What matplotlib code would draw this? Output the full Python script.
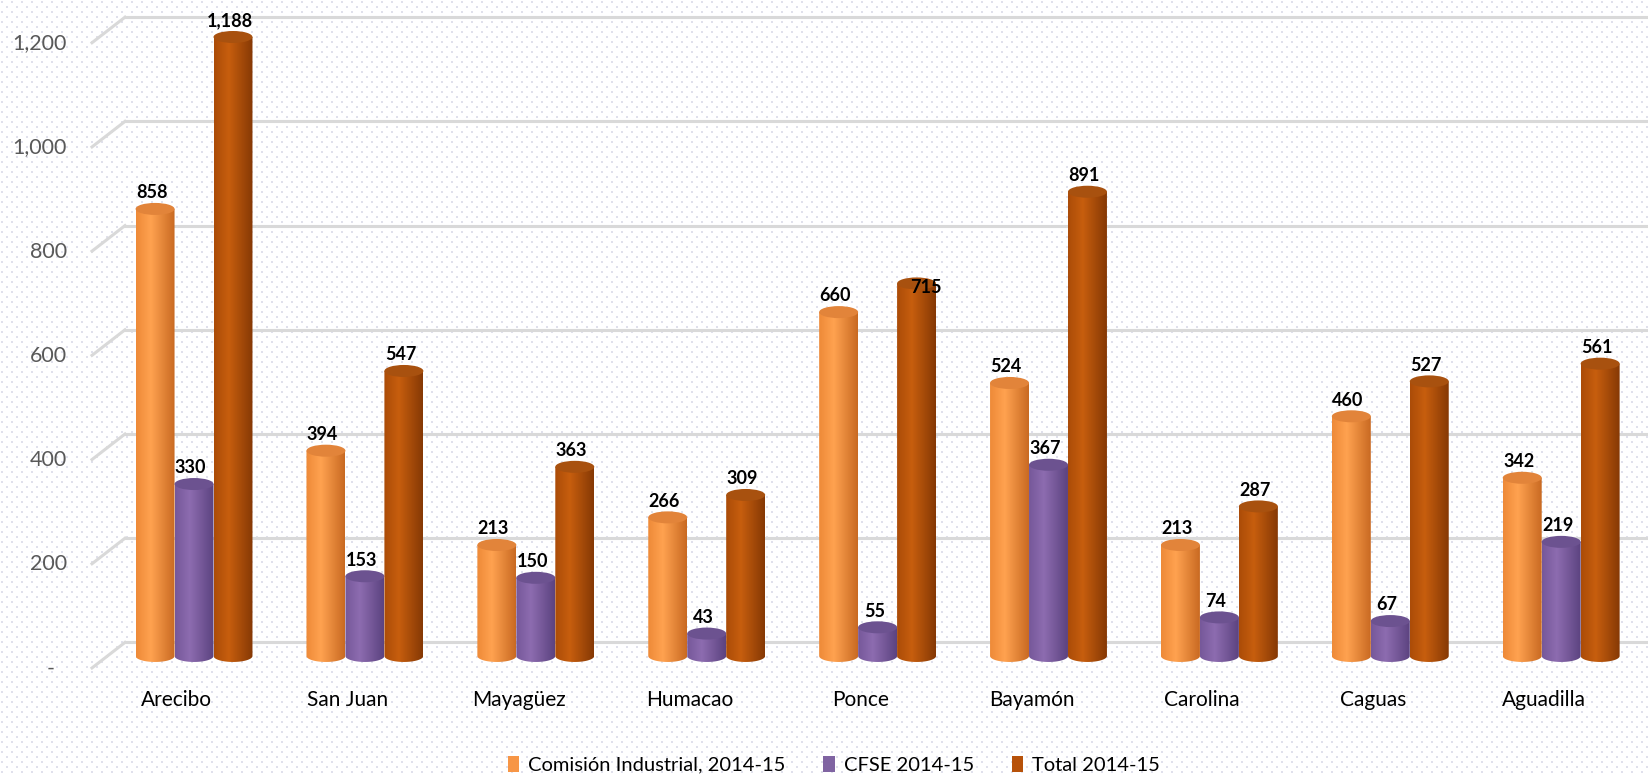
import numpy as np
import matplotlib.pyplot as plt
from matplotlib.patches import Ellipse, Polygon, Rectangle
from matplotlib.colors import to_rgb

# Values
regions = ["Arecibo", "San Juan", "Mayagüez", "Humacao", "Ponce",
           "Bayamón", "Carolina", "Caguas", "Aguadilla"]
comision = [858, 394, 213, 266, 660, 524, 213, 460, 342]
cfse = [330, 153, 150, 43, 55, 367, 74, 67, 219]
total = [1188, 547, 363, 309, 715, 891, 287, 527, 561]
series_names = ["Comisión Industrial, 2014-15", "CFSE 2014-15", "Total 2014-15"]
y_ticks = [0, 200, 400, 600, 800, 1000, 1200]
y_tick_labels = ["-", "200", "400", "600", "800", "1,000", "1,200"]

# (left edge, highlight, right edge, top, legend)
styles = [
    ("#ee8a38", "#ffa250", "#c96a22", "#e2843a", "#f79646"),
    ("#76589a", "#8d6cb0", "#5c4380", "#6c5290", "#8064a2"),
    ("#ab4c08", "#c75e0e", "#863905", "#a8510f", "#b7520a"),
]

plt.rcParams['font.family'] = ['Lato', 'DejaVu Sans']

W, H = 1648, 777
fig = plt.figure(figsize=(W / 100, H / 100), dpi=100)

# dotted background
bg = fig.add_axes([0, 0, 1, 1])
bg.set_xlim(0, W)
bg.set_ylim(H, 0)
bg.axis('off')
gx, gy = np.meshgrid(np.arange(2, W, 10), np.arange(2, H, 5))
gx = gx + (np.arange(gx.shape[0])[:, None] % 2) * 5
bg.scatter(gx.ravel(), gy.ravel(), s=1.3, marker='s', color='#e0e0ec', linewidths=0)

ax = fig.add_axes([92 / W, 1 - 671.6 / H, 1 - 92 / W, 671.6 / H])
ax.patch.set_visible(False)
ax.axis('off')

ppu = 0.521            # pixels per unit (y)
eh = 12 / ppu          # ellipse height in data units
bw = 0.228             # bar width
xmin, xmax = -0.597, 8.508

# perspective grid
for v in y_ticks:
    ax.plot([-0.404, xmax], [v + 26, v + 26], color='#d9d9d9', lw=2.2, zorder=1)
    ax.plot([xmin, -0.404], [v - 23, v + 26], color='#d9d9d9', lw=2.2,
            zorder=1, clip_on=False)
for v, lab in zip(y_ticks, y_tick_labels):
    xr = -0.813 if lab == "-" else -0.743
    ax.text(xr, v - 24, lab, ha='right', va='center', fontsize=15.5,
            color='#595959', clip_on=False)

label_shift = {(4, 2): (0.076, -38)}

x = np.arange(len(regions))
t = np.linspace(0, 1, 80)
for s, vals in enumerate([comision, cfse, total]):
    c0, c1, c2, ctop, _ = styles[s]
    cols = np.array([to_rgb(c0), to_rgb(c1), to_rgb(c2)])
    grad = np.stack([np.interp(t, [0, 0.38, 1], cols[:, k]) for k in range(3)], axis=1)
    for i, v in enumerate(vals):
        xc = x[i] + (s - 1) * bw
        x0, x1 = xc - bw / 2, xc + bw / 2
        ang = np.linspace(np.pi, 2 * np.pi, 40)
        pts = [(x0, v)] + list(zip(xc + bw / 2 * np.cos(ang), eh / 2 * np.sin(ang))) + [(x1, v)]
        clip = Polygon(pts, closed=True, transform=ax.transData)
        im = ax.imshow(grad[np.newaxis], extent=[x0, x1, -eh / 2, v], aspect='auto',
                       interpolation='bilinear', zorder=3 + s)
        im.set_clip_path(clip)
        ax.add_patch(Ellipse((xc, v), bw, eh, facecolor=ctop, edgecolor='none', zorder=3.5 + s))
        dx, dy = label_shift.get((i, s), (0, 0))
        ax.text(xc - 0.02 + dx, v + 31 + dy, f"{v:,}", ha='center', va='center',
                fontsize=13, fontweight='bold', color='black', zorder=8)

for i, name in enumerate(regions):
    ax.text(x[i] - 0.1, -84, name, ha='center', va='center', fontsize=15,
            color='black', clip_on=False)

ax.set_xlim(xmin, xmax)
ax.set_ylim(-30, 1259)

handles = [Rectangle((0, 0), 1, 1, facecolor=st[4]) for st in styles]
fig.legend(handles, series_names, loc='center', bbox_to_anchor=(0.506, 0.016),
           ncol=3, frameon=False, handlelength=0.55, handleheight=0.85,
           handletextpad=0.45, columnspacing=1.9, fontsize=14.5)

fig.savefig("out.png", dpi=100)
